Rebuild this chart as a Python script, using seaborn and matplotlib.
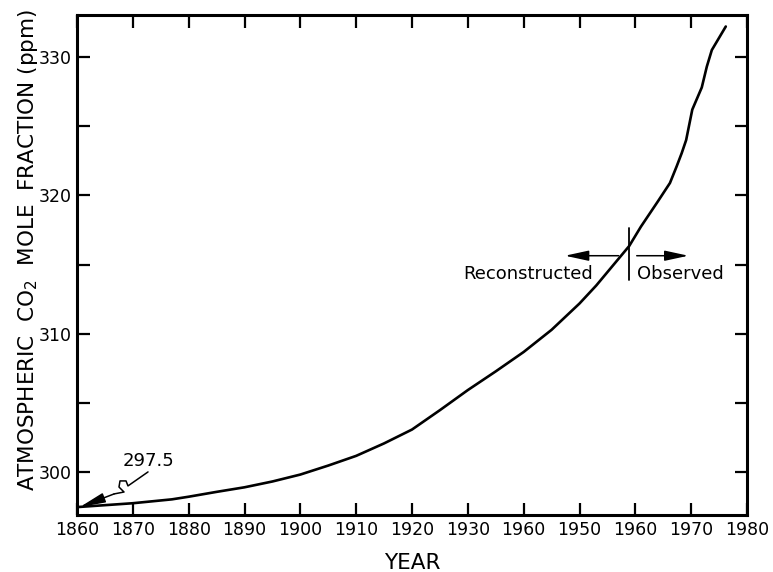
import matplotlib
matplotlib.use("Agg")
import matplotlib.pyplot as plt
import pandas as pd
import seaborn as sns

# ---- data ----
years = [1860, 1870, 1877, 1880, 1885, 1890, 1895, 1900, 1905, 1910, 1915, 1920,
         1925, 1930, 1935, 1940, 1945, 1950, 1953, 1956, 1958.9, 1961, 1964,
         1966.2, 1967.4, 1968.3, 1969.1, 1970.2, 1971.9, 1972.8, 1973.7, 1976.2]
co2_ppm = [297.5, 297.78, 298.06, 298.25, 298.6, 298.93, 299.35, 299.85, 300.5,
           301.2, 302.1, 303.1, 304.5, 305.95, 307.3, 308.7, 310.3, 312.2,
           313.5, 314.95, 316.35, 317.75, 319.55, 320.9, 322.1, 323.05, 324.0,
           326.2, 327.8, 329.3, 330.5, 332.2]

x_ticks = [1860, 1870, 1880, 1890, 1900, 1910, 1920, 1930, 1940, 1950, 1960, 1970, 1980]
x_tick_labels = ["1860", "1870", "1880", "1890", "1900", "1910", "1920", "1930",
                 "1960", "1950", "1960", "1970", "1980"]
y_ticks_major = [300, 310, 320, 330]
y_ticks_minor = [305, 315, 325]

initial_value = 297.5
split_year = 1958.9

# ---- style ----
sns.set_theme(style="ticks")
plt.rcParams["font.family"] = ["DejaVu Sans"]
plt.rcParams["mathtext.fontset"] = "dejavusans"

W, H = 773, 572
fig = plt.figure(figsize=(W / 100, H / 100), dpi=100)
fig.patch.set_facecolor("white")
ax = fig.add_axes([77 / W, 1 - 515 / H, 670 / W, 500 / H])
ax.set_facecolor("white")

df = pd.DataFrame({"year": years, "ppm": co2_ppm})
sns.lineplot(data=df, x="year", y="ppm", ax=ax, color="black", linewidth=1.9,
             estimator=None)

ax.set_xlim(1860, 1980)
ax.set_ylim(296.93, 333.03)

ax.set_xticks(x_ticks)
ax.set_xticklabels(x_tick_labels)
ax.set_yticks(y_ticks_major)
ax.set_yticks(y_ticks_minor, minor=True)

for sp in ax.spines.values():
    sp.set_visible(True)
    sp.set_linewidth(2.2)
    sp.set_color("black")

ax.tick_params(axis="both", which="both", direction="in", top=True, right=True,
               length=9, width=1.6, color="black", labelsize=12.5,
               labelcolor="black")
ax.tick_params(axis="x", pad=4.5)
ax.tick_params(axis="y", pad=3.5)

ax.set_xlabel("YEAR", fontsize=15.5, color="black")
ax.xaxis.set_label_coords(0.5, -0.076)
ax.set_ylabel("ATMOSPHERIC  CO$_2$  MOLE  FRACTION (ppm)", fontsize=15.5,
              color="black", va="center")
ax.yaxis.set_label_coords((28 - 77) / 670, (515 - 250) / 500)

# ---- 297.5 annotation with squiggly arrow ----
ax.text(1872.8, 300.2, f"{initial_value}", fontsize=13, ha="center",
        va="bottom", color="black")
sq_x = [1872.72, 1869.13, 1868.78, 1867.70, 1867.52, 1868.42, 1866.63]
sq_y = [300.04, 299.03, 299.39, 299.39, 298.95, 298.59, 298.45]
ax.plot(sq_x, sq_y, color="black", lw=1.1)
ax.annotate("", xy=(1860.5, initial_value), xytext=(sq_x[-1], sq_y[-1]),
            arrowprops=dict(arrowstyle="-|>,head_length=1.3,head_width=0.25",
                            color="black", lw=1.1, mutation_scale=12,
                            shrinkA=0, shrinkB=0))

# ---- Reconstructed / Observed marker ----
ax.plot([split_year, split_year], [313.9, 317.63], color="black", lw=1.3)
ax.annotate("", xy=(1947.4, 315.65), xytext=(1957.0, 315.65),
            arrowprops=dict(arrowstyle="-|>,head_length=1.2,head_width=0.26",
                            color="black", lw=1.1, mutation_scale=12,
                            shrinkA=0, shrinkB=0))
ax.annotate("", xy=(1969.5, 315.65), xytext=(1960.25, 315.65),
            arrowprops=dict(arrowstyle="-|>,head_length=1.2,head_width=0.26",
                            color="black", lw=1.1, mutation_scale=12,
                            shrinkA=0, shrinkB=0))
ax.text(1952.4, 313.97, "Reconstructed", fontsize=13, ha="right",
        va="baseline", color="black")
ax.text(1960.3, 313.97, "Observed", fontsize=13, ha="left",
        va="baseline", color="black")

fig.savefig("out.png", dpi=100, facecolor="white")
